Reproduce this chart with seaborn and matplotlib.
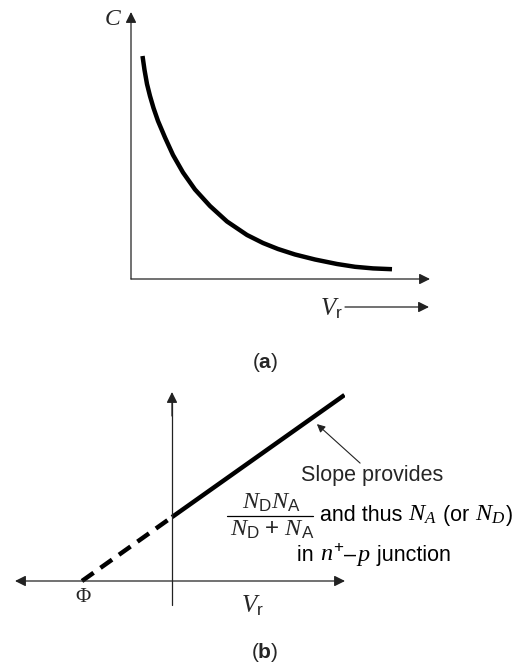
import matplotlib
matplotlib.use("Agg")
import matplotlib.pyplot as plt
import seaborn as sns
import pandas as pd
from matplotlib.lines import Line2D
from matplotlib.patches import FancyArrowPatch
from matplotlib.offsetbox import TextArea, HPacker, AnnotationBbox

sns.set_theme(style="white")
plt.rcParams["font.family"] = ["Liberation Sans", "DejaVu Sans"]
plt.rcParams["mathtext.fontset"] = "custom"
plt.rcParams["mathtext.it"] = "Liberation Serif:italic"
plt.rcParams["mathtext.rm"] = "Liberation Sans"
plt.rcParams["mathtext.bf"] = "Liberation Sans:bold"

# (a) capacitance versus reverse bias
vr_a = [0.385, 0.452, 0.535, 0.635, 0.753, 0.903, 1.137, 1.405, 1.739, 2.140,
        2.642, 3.211, 3.880, 4.415, 4.916, 5.485, 6.154, 6.890, 7.492, 8.094,
        8.729]
cap_a = [8.352, 7.828, 7.303, 6.854, 6.404, 5.918, 5.300, 4.644, 3.989, 3.352,
         2.734, 2.154, 1.648, 1.348, 1.124, 0.918, 0.730, 0.562, 0.457, 0.397,
         0.367]

# (b) 1/C^2 versus reverse bias: extrapolated and measured parts
vr_dash = [-3.0, 0.0]
y_dash = [0.0, 2.13]
vr_solid = [0.0, 5.75]
y_solid = [2.13, 6.2]

W, H = 522, 666
fig = plt.figure(figsize=(W / 100, H / 100), dpi=100)
AX_COLOR = "#222222"


def fx(px):
    return px / W


def fy(py):
    return 1 - py / H


def axis_arrow(ax, start, end, style="-|>"):
    ax.annotate("", xy=end, xytext=start, xycoords="data",
                arrowprops=dict(arrowstyle=style, color=AX_COLOR, lw=0.9,
                                mutation_scale=16, shrinkA=0, shrinkB=0),
                annotation_clip=False)


def mixed_text(ax, px, py, parts, align_x=0.0):
    """Place a row of text pieces of different sizes on one baseline."""
    boxes = [TextArea(s, textprops=dict(fontsize=size, color="black"))
             for s, size in parts]
    row = HPacker(children=boxes, align="baseline", pad=0, sep=0)
    ab = AnnotationBbox(row, (fx(px), fy(py)), xycoords="figure fraction",
                        frameon=False, box_alignment=(align_x, 0.5), pad=0,
                        annotation_clip=False)
    ax.add_artist(ab)


TXT = 15.5
MATH = 17.5

# ---- panel (a)
ax1 = fig.add_axes([fx(131), fy(279), 299 / W, 267 / H])
ax1.set_xlim(0, 10)
ax1.set_ylim(0, 10)
ax1.axis("off")
df_a = pd.DataFrame({"Vr": vr_a, "C": cap_a})
sns.lineplot(data=df_a, x="Vr", y="C", ax=ax1, color="black", lw=3.2,
             sort=False, estimator=None, solid_capstyle="butt",
             solid_joinstyle="round")
axis_arrow(ax1, (0, 0), (0, 10))
axis_arrow(ax1, (0, 0), (10, 0))

fig.text(fx(113), fy(19), r"$C$", fontsize=17, ha="center", va="center")
fig.text(fx(331), fy(309), r"$V_{\mathrm{r}}$", fontsize=18, ha="center", va="center")
fig.patches.append(FancyArrowPatch(
    (fx(345), fy(307)), (fx(429), fy(307)), transform=fig.transFigure,
    arrowstyle="-|>", mutation_scale=16, color=AX_COLOR, lw=0.9,
    shrinkA=0, shrinkB=0))
fig.text(fx(265), fy(363), r"($\mathbf{a}$)", fontsize=15, ha="center", va="center")

# ---- panel (b)
ax2 = fig.add_axes([fx(15), fy(605), 330 / W, 213 / H])
ax2.set_xlim(-5.233, 5.767)
ax2.set_ylim(-0.8, 6.3)
ax2.axis("off")
df_dash = pd.DataFrame({"Vr": vr_dash, "y": y_dash})
df_solid = pd.DataFrame({"Vr": vr_solid, "y": y_solid})
sns.lineplot(data=df_dash, x="Vr", y="y", ax=ax2, color="black", lw=3.2,
             sort=False, estimator=None, linestyle=(0, (3.2, 1.9)))
sns.lineplot(data=df_solid, x="Vr", y="y", ax=ax2, color="black", lw=3.2,
             sort=False, estimator=None, solid_capstyle="butt")
axis_arrow(ax2, (-5.233, 0), (5.767, 0), style="<|-|>")
ax2.plot([0, 0], [-0.8, 6.0], color=AX_COLOR, lw=0.9, clip_on=False)
axis_arrow(ax2, (0, 5.5), (0, 6.3))

# slope annotation
ax2.annotate("", xy=(4.83, 5.23), xytext=(6.27, 3.93), xycoords="data",
             arrowprops=dict(arrowstyle="-|>", color=AX_COLOR, lw=0.8,
                             mutation_scale=12, shrinkA=0, shrinkB=0),
             annotation_clip=False)

fig.text(fx(372), fy(476), "Slope provides", fontsize=TXT, ha="center", va="center")
fig.text(fx(271), fy(503), r"$N_{\mathrm{D}}N_{\mathrm{A}}$", fontsize=MATH,
         ha="center", va="center")
fig.add_artist(Line2D([fx(227), fx(313)], [fy(515.5), fy(515.5)], color="black", lw=0.9))
fig.text(fx(272), fy(530), r"$N_{\mathrm{D}}\ $+$\ N_{\mathrm{A}}$", fontsize=MATH,
         ha="center", va="center")
mixed_text(ax2, 320, 515, [("and thus ", TXT), (r"$N_A$", MATH), (" (or ", TXT),
                           (r"$N_D$", MATH), (")", TXT)])
mixed_text(ax2, 297, 556, [("in ", TXT), (r"$n^{+}$", MATH), ("–", TXT),
                           (r"$p$", MATH), (" junction", TXT)])

fig.text(fx(83), fy(598), "Φ", fontsize=15, ha="center", va="center",
         family=["Liberation Serif", "DejaVu Serif"])
fig.text(fx(252), fy(606), r"$V_{\mathrm{r}}$", fontsize=18, ha="center", va="center")
fig.text(fx(265), fy(653), r"($\mathbf{b}$)", fontsize=15, ha="center", va="center")

fig.savefig("out.png", dpi=100, facecolor="white")
